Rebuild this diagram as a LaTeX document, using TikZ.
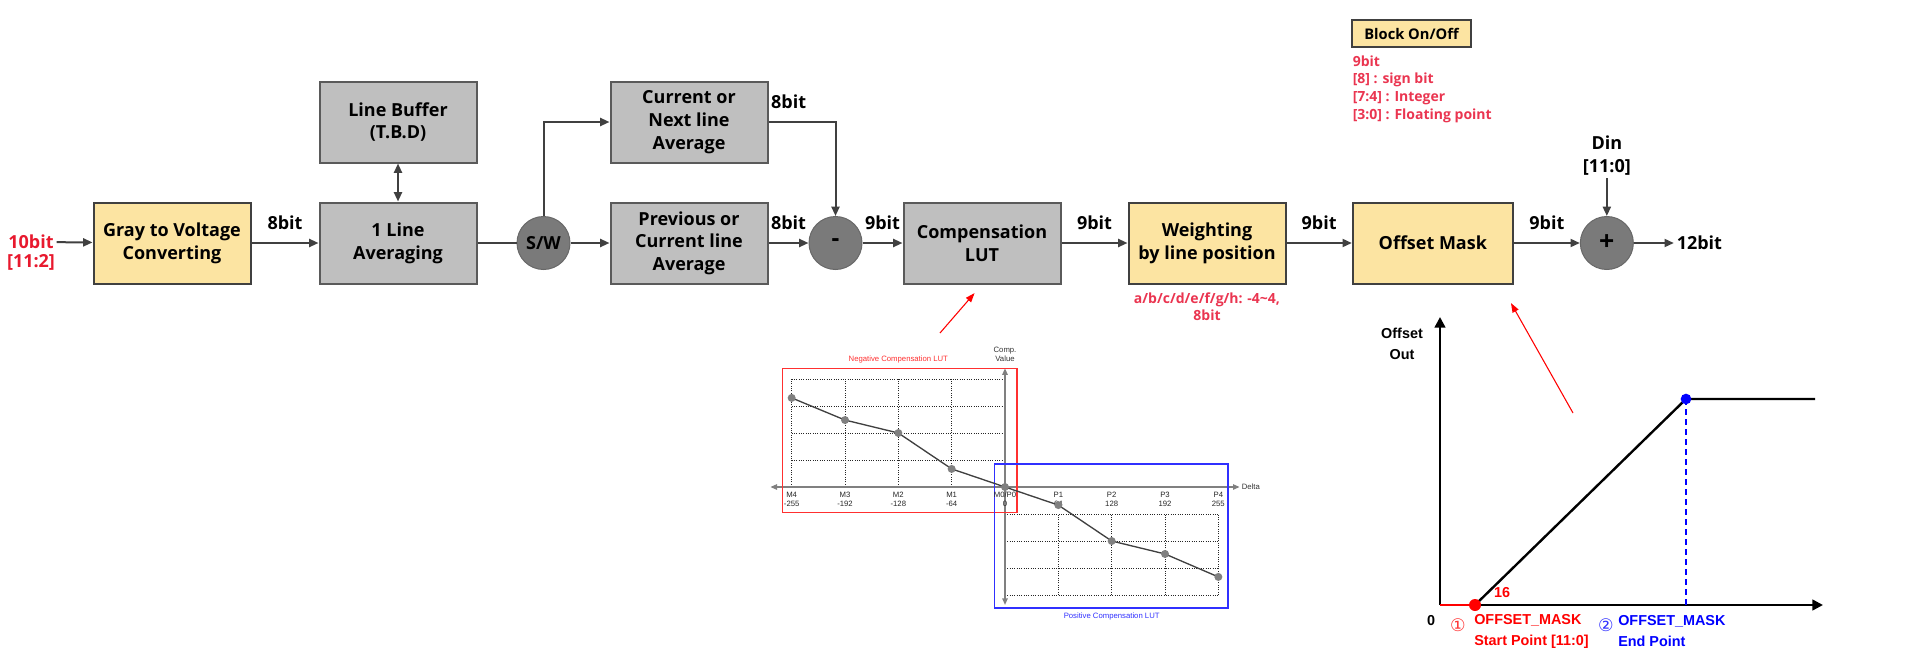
\documentclass[tikz,border=0pt]{standalone}
\usepackage{fontspec}
\setmainfont{Open Sans}
\newfontfamily\chartfont{Liberation Sans}
\newfontfamily\symbolfont{DejaVu Sans}
\usepackage{tikz}
\usetikzlibrary{arrows.meta, positioning, calc}

\definecolor{boxgrey}{HTML}{BFBFBF}
\definecolor{boxedge}{HTML}{5A5A5A}
\definecolor{boxyellow}{HTML}{FCE4A2}
\definecolor{yellowedge}{HTML}{404040}
\definecolor{junctiongrey}{HTML}{7A7A7A}
\definecolor{wirecol}{HTML}{404040}
\definecolor{inred}{HTML}{E8192E}
\definecolor{notered}{HTML}{EA3550}
\definecolor{lutred}{HTML}{FF3030}
\definecolor{lutblue}{HTML}{3030FF}
\definecolor{plotgrey}{HTML}{808080}

\newcommand{\blockfont}{\fontsize{13.5pt}{17pt}\selectfont\bfseries}
\newcommand{\notefont}{\fontsize{10.5pt}{13.3pt}\selectfont\bfseries}
\newcommand{\lutfont}{\chartfont\fontsize{5.8pt}{6.8pt}\selectfont}
\newcommand{\offfont}{\chartfont\bfseries\fontsize{10.8pt}{15.75pt}\selectfont}

\begin{document}
\begin{tikzpicture}[
    x=0.75pt, y=-0.75pt,
    greyblock/.style={rectangle, draw=boxedge, line width=1.5pt, fill=boxgrey, minimum width=117.75pt, minimum height=60.75pt, align=center, font=\blockfont},
    yellowblock/.style={greyblock, fill=boxyellow, draw=yellowedge},
    junction/.style={circle, fill=junctiongrey, draw=junctiongrey!85!black, line width=0.75pt, minimum size=39.75pt, inner sep=0pt, font=\blockfont},
    buslabel/.style={font=\blockfont, inner sep=2pt},
    inlabel/.style={font=\blockfont, text=inred, inner sep=2pt},
    note/.style={font=\notefont, text=notered, inner sep=2pt},
    arrow/.style={-{Triangle[length=7pt, width=6pt]}, line width=1.5pt, draw=wirecol},
    pointer/.style={-{Triangle[length=7pt, width=5pt]}, line width=0.8pt, draw=red},
    lutgrid/.style={densely dotted, line width=0.75pt, draw=black!85},
    lutaxis/.style={{Triangle[length=5pt, width=4pt]}-{Triangle[length=5pt, width=4pt]}, line width=1.2pt, draw=plotgrey},
    lutcurve/.style={line width=1pt, draw=black!75},
    offaxis/.style={-{Triangle[length=8pt, width=8pt]}, line width=1.8pt, draw=black},
    offcurve/.style={line width=1.8pt, draw=black}
]

\useasboundingbox (0,0) rectangle (1914,650);

% Main chain
\node[yellowblock] (gray) at (172,243) {Gray to Voltage\\Converting};
\node[greyblock, right=50.25pt of gray] (avg) {1 Line\\Averaging};
\node[greyblock, above=28.5pt of avg] (buf) {Line Buffer\\(T.B.D)};
\node[junction, right=29.25pt of avg] (sw) {S/W};
\node[greyblock, right=29.25pt of sw] (prev) {Previous or\\Current line\\Average};
\node[greyblock, above=28.5pt of prev] (cur) {Current or\\Next line\\Average};
\node[junction, right=30pt of prev, font=\fontsize{18pt}{18pt}\selectfont\bfseries] (minus) {-};
\node[greyblock, right=30pt of minus] (comp) {Compensation\\LUT};
\node[yellowblock, right=49.5pt of comp] (weight) {Weighting\\by line position};
\node[yellowblock, right=49pt of weight, minimum width=120pt] (mask) {Offset Mask};
\node[junction, right=49.5pt of mask, font=\fontsize{20pt}{20pt}\selectfont\bfseries] (plus) {+};
\node[buslabel, right=30pt of plus] (out) {12bit};

\node[inlabel] (src) at (31,242) {10bit};
\node[inlabel, below=0pt of src] (srcbits) {[11:2]};
\node[buslabel, align=center, above=28.5pt of plus] (din) {Din\\{[11:0]}};

% Notes
\node[rectangle, draw=yellowedge, line width=1.5pt, fill=boxyellow, minimum width=89pt, minimum height=20pt, inner sep=1pt, font=\fontsize{11pt}{13pt}\selectfont\bfseries] (onoff) at (1411.5,33.5) {Block On/Off};
\node[note, align=left, below right=3.5pt and -1pt of onoff.south west] (bitnote) {9bit\\{[8]} : sign bit\\{[7:4]} : Integer\\{[3:0]} : Floating point};
\node[note, align=center, below=4pt of weight, font=\fontsize{10.5pt}{12.75pt}\selectfont\bfseries] (weightnote) {a/b/c/d/e/f/g/h: -4\textasciitilde 4,\\8bit};

% Arrows
\draw[arrow] (src) -- (gray);
\draw[arrow] (gray) -- node[buslabel, above=7pt] {8bit} (avg);
\draw[arrow, {Triangle[length=7pt, width=6pt]}-{Triangle[length=7pt, width=6pt]}] (buf) -- (avg);
\draw[line width=1.5pt, draw=wirecol] (avg) -- (sw);
\draw[arrow] (sw) -- (prev);
\draw[arrow] (sw) |- (cur);
\draw[arrow] (cur) -| node[buslabel, above=7pt, pos=0.15] {8bit} (minus);
\draw[arrow] (prev) -- node[buslabel, above=7pt] {8bit} (minus);
\draw[arrow] (minus) -- node[buslabel, above=7pt] {9bit} (comp);
\draw[arrow] (comp) -- node[buslabel, above=7pt] {9bit} (weight);
\draw[arrow] (weight) -- node[buslabel, above=7pt] {9bit} (mask);
\draw[arrow] (mask) -- node[buslabel, above=7pt] {9bit} (plus);
\draw[arrow] (din) -- (plus);
\draw[arrow] (plus) -- (out);

% Compensation LUT chart
\begin{scope}[shift={(1005,487)}, x=40pt, y=20.25pt]
  \draw[lutgrid, step=1] (-4,0) grid (0,4);
  \draw[lutgrid, step=1] (0,-4) grid (4,-1);
  \draw[lutaxis] (-4.4,0) -- (4.4,0) node[right, font=\lutfont, text=black!80, inner sep=1pt] (delta) {Delta};
  \draw[lutaxis] (0,-4.37) -- (0,4.4);
  \node[font=\lutfont, text=black!80, align=center, inner sep=0pt] (compval) at (0,4.92) {Comp.\\Value};
  \draw[lutred, line width=0.9pt] (-4.17,-0.93) rectangle (0.225,4.4);
  \draw[lutblue, line width=0.9pt] (-0.19,0.85) rectangle (4.18,-4.48);
  \node[font=\lutfont, text=lutred] (negtitle) at (-2,4.74) {Negative Compensation LUT};
  \node[font=\lutfont, text=lutblue] (postitle) at (2,-4.81) {Positive Compensation LUT};
  \foreach \xv/\ticklab/\tickval in {-4/M4/-255, -3/M3/-192, -2/M2/-128, -1/M1/-64, 0/{M0/P0}/0, 1/P1/64, 2/P2/128, 3/P3/192, 4/P4/255}
    \node[font=\lutfont, text=black!85, align=center, anchor=north, inner sep=0.5pt] at (\xv,-0.15) {\ticklab\\\tickval};
  \draw[lutcurve] (-4,3.3) -- (-3,2.48) -- (-2,2) -- (-1,0.67) -- (0,0) -- (1,-0.67) -- (2,-2) -- (3,-2.48) -- (4,-3.33);
  \foreach \xv/\yv in {-4/3.3, -3/2.48, -2/2, -1/0.67, 0/0, 1/-0.67, 2/-2, 3/-2.48, 4/-3.33}
    \fill[plotgrey] (\xv,\yv) circle (3pt);
\end{scope}

\coordinate (lutTail) at (940,333);
\draw[pointer, shorten >=8.5pt] (lutTail) -- (comp.south);

% Offset mask chart
\coordinate (orig) at (1440,605);
\coordinate (yend) at (1440,317);
\coordinate (xend) at (1823,605);
\coordinate (startpt) at (1475,605);
\coordinate (endpt) at (1686,399);
\coordinate (flatend) at (1815,399);
\coordinate (endfoot) at (1686,605);
\draw[offaxis] (orig) -- (yend);
\draw[offaxis] (orig) -- (xend);
\draw[red, line width=2.2pt] (orig) -- (startpt);
\draw[offcurve] (startpt) -- (endpt) -- (flatend);
\draw[blue, line width=2pt, dash pattern=on 4.5pt off 3pt] (endpt) -- (endfoot);
\fill[red] (startpt) circle (4.5pt);
\fill[blue] (endpt) circle (4pt);

\node[font=\offfont, align=center] (offout) at (1402,344) {Offset\\Out};
\node[font=\offfont, text=red] (sixteen) at (1502,593) {16};
\node[font=\offfont] (zero) at (1431,621) {0};
\node[font=\symbolfont\fontsize{13pt}{13pt}\selectfont, text=red!80] (one) at (1458,625) {①};
\node[font=\offfont, text=red, align=left, anchor=west, inner sep=0pt] (startlab) at (1474,631) {OFFSET\_MASK\\Start Point {[11:0]}};
\node[font=\symbolfont\fontsize{13pt}{13pt}\selectfont, text=blue!80] (two) at (1606,625) {②};
\node[font=\offfont, text=blue, align=left, anchor=west, inner sep=0pt] (endlab) at (1618,631) {OFFSET\_MASK\\End Point};

\coordinate (offTail) at (1573,413);
\draw[pointer, shorten >=16pt] (offTail) -- ([xshift=-10pt]mask.south east);

\end{tikzpicture}
\end{document}
